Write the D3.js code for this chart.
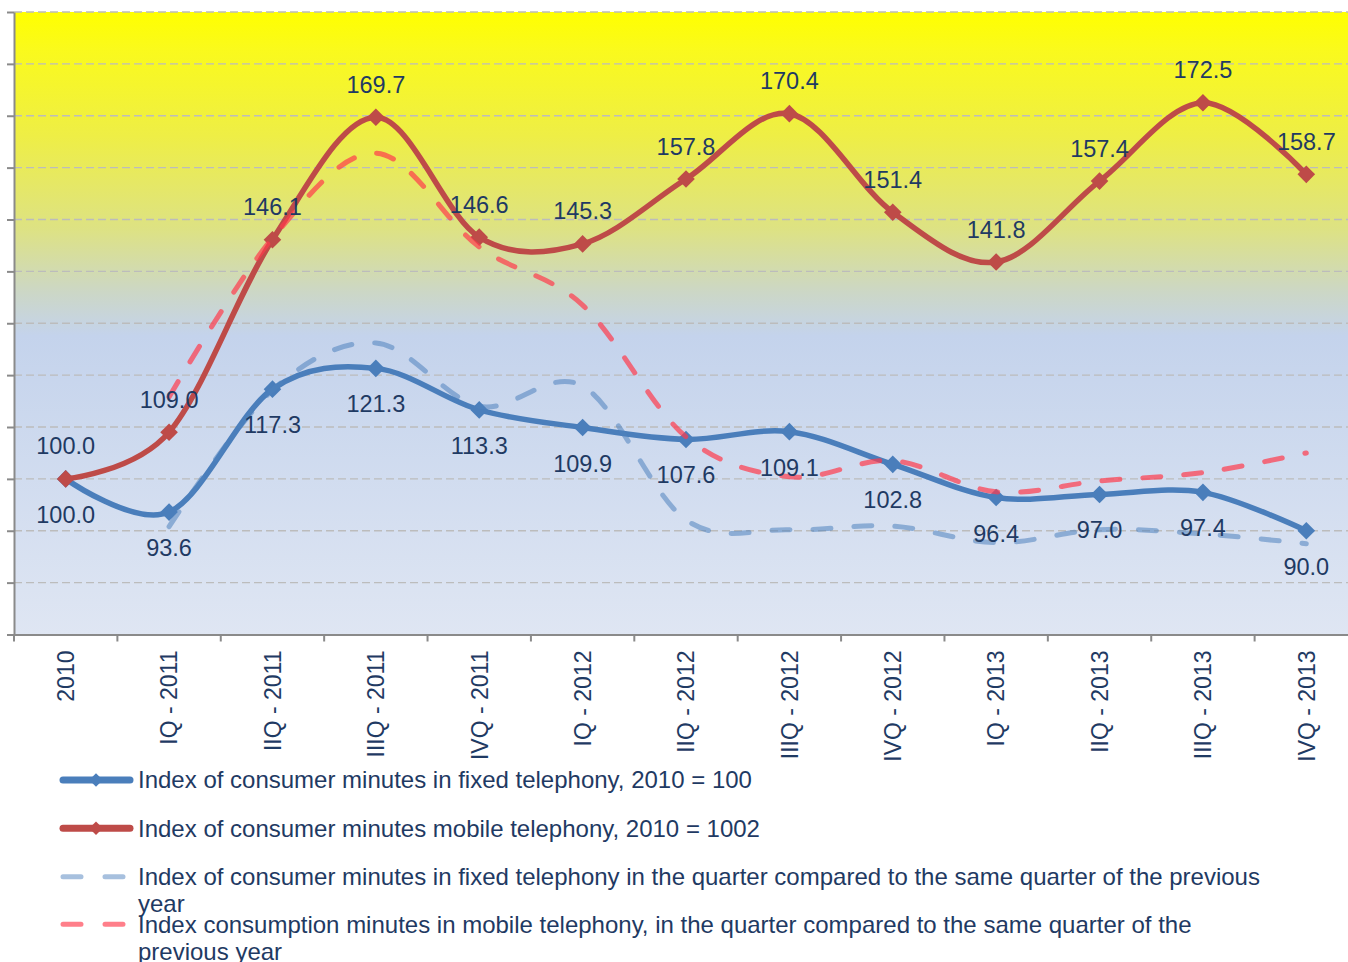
<!DOCTYPE html>
<html>
<head>
<meta charset="utf-8">
<script src="https://cdn.jsdelivr.net/npm/d3@7"></script>
<style>
  html, body { margin: 0; padding: 0; background: #ffffff; }
  svg { display: block; font-family: "Liberation Sans", Arial, sans-serif; }
</style>
</head>
<body>
<svg id="chart" width="1348" height="962"></svg>
<script>
const categories = ["2010", "IQ - 2011", "IIQ - 2011", "IIIQ - 2011", "IVQ - 2011", "IQ - 2012", "IIQ - 2012", "IIIQ - 2012", "IVQ - 2012", "IQ - 2013", "IIQ - 2013", "IIIQ - 2013", "IVQ - 2013"];
const fixedIndex  = [100.0, 93.6, 117.3, 121.3, 113.3, 109.9, 107.6, 109.1, 102.8, 96.4, 97.0, 97.4, 90.0];
const mobileIndex = [100.0, 109.0, 146.1, 169.7, 146.6, 145.3, 157.8, 170.4, 151.4, 141.8, 157.4, 172.5, 158.7];
const fixedYoY    = [null, 90.8, 117.1, 126.2, 114.0, 117.9, 92.1, 90.2, 90.9, 87.7, 90.2, 89.4, 87.5];
const mobileYoY   = [null, 115.8, 146.4, 162.8, 144.7, 133.5, 108.1, 100.4, 103.5, 97.5, 99.6, 101.2, 105.0];
const yTicks = [70, 80, 90, 100, 110, 120, 130, 140, 150, 160, 170, 180, 190];
const legendLabels = [
  ["Index of consumer minutes in fixed telephony, 2010 = 100"],
  ["Index of consumer minutes mobile telephony, 2010 = 1002"],
  ["Index of consumer minutes in fixed telephony in the quarter compared to the same quarter of the previous", "year"],
  ["Index consumption minutes in mobile telephony, in the quarter compared to the same quarter of the", "previous year"]
];

const svg = d3.select("#chart");
const plot = { left: 14, right: 1358, top: 12, bottom: 634.5 };

const x = d3.scaleBand().domain(categories).range([plot.left, plot.right]).padding(0);
const cx = d => x(d) + x.bandwidth() / 2;
const y = d3.scaleLinear().domain([70, 190]).range([plot.bottom, plot.top]);

// background gradient
const defs = svg.append("defs");
const grad = defs.append("linearGradient").attr("id", "bg")
  .attr("x1", 0).attr("y1", 0).attr("x2", 0).attr("y2", 1);
[[0, "#ffff00"], [0.06, "#fafa1c"], [0.2, "#eeee46"], [0.35, "#dde284"], [0.45, "#ccd7c6"],
 [0.52, "#c4d3ec"], [1, "#dfe6f3"]].forEach(s => grad.append("stop").attr("offset", s[0]).attr("stop-color", s[1]));

svg.append("rect")
  .attr("x", plot.left).attr("y", plot.top)
  .attr("width", plot.right - plot.left).attr("height", plot.bottom - plot.top)
  .attr("fill", "url(#bg)");

// gridlines
svg.append("g").selectAll("line")
  .data(yTicks.filter(t => t > 70))
  .join("line")
  .attr("x1", plot.left).attr("x2", plot.right)
  .attr("y1", d => y(d)).attr("y2", d => y(d))
  .attr("stroke", "#bcbcbc").attr("stroke-width", 1.3)
  .attr("stroke-dasharray", "8,4");

// y axis (no labels)
const yAxis = svg.append("g").attr("transform", `translate(${plot.left},0)`)
  .call(d3.axisLeft(y).tickValues(yTicks).tickSize(7).tickSizeOuter(0).tickFormat(""));
yAxis.selectAll("path, line").attr("stroke", "#8a8a8a").attr("stroke-width", 2);

// x axis
const xAxis = svg.append("g").attr("transform", `translate(0,${plot.bottom})`)
  .call(d3.axisBottom(x).tickSize(0).tickSizeOuter(0));
xAxis.select(".domain").attr("stroke", "#8a8a8a").attr("stroke-width", 2);
xAxis.selectAll(".tick text")
  .attr("font-family", "'Liberation Sans', Arial, sans-serif")
  .attr("font-size", "23px")
  .attr("fill", "#1f3a63")
  .attr("text-anchor", "end")
  .attr("transform", "translate(0,16) rotate(-90)")
  .attr("x", 0).attr("y", 0).attr("dy", "0.36em");
// boundary ticks
svg.append("g").selectAll("line")
  .data(categories)
  .join("line")
  .attr("x1", d => x(d)).attr("x2", d => x(d))
  .attr("y1", plot.bottom).attr("y2", plot.bottom + 7)
  .attr("stroke", "#8a8a8a").attr("stroke-width", 2);

const curve = d3.curveCardinal.tension(0);
const mkLine = arr => d3.line()
  .defined((d, i) => arr[i] != null)
  .x((d, i) => cx(categories[i]))
  .y((d, i) => y(arr[i]))
  .curve(curve);

const diamond = d3.symbol().type(d3.symbolSquare).size(155);

const colFixed = "#4a7ebb", colMobile = "#be4b48";
const colFixedYoY = "rgba(79,129,189,0.55)", colMobileYoY = "rgba(255,59,75,0.7)";

function drawSolid(arr, color) {
  svg.append("path").datum(arr)
    .attr("d", mkLine(arr)(arr))
    .attr("fill", "none").attr("stroke", color)
    .attr("stroke-width", 5.5).attr("stroke-linejoin", "round").attr("stroke-linecap", "round");
  svg.append("g").selectAll("path")
    .data(arr)
    .join("path")
    .attr("d", diamond)
    .attr("transform", (d, i) => `translate(${cx(categories[i])},${y(d)}) rotate(45)`)
    .attr("fill", color);
}
function drawDashed(arr, color) {
  svg.append("path").datum(arr)
    .attr("d", mkLine(arr)(arr))
    .attr("fill", "none").attr("stroke", color)
    .attr("stroke-width", 5).attr("stroke-linecap", "round")
    .attr("stroke-dasharray", "18,23");
}

drawSolid(fixedIndex, colFixed);
drawSolid(mobileIndex, colMobile);
drawDashed(fixedYoY, colFixedYoY);
drawDashed(mobileYoY, colMobileYoY);

// data labels
const labelStyle = sel => sel
  .attr("font-size", "23.5px")
  .attr("fill", "#1f3a63")
  .attr("text-anchor", "middle");
svg.append("g").selectAll("text")
  .data(fixedIndex)
  .join("text")
  .attr("x", (d, i) => cx(categories[i]))
  .attr("y", d => y(d) + 44)
  .text(d => d.toFixed(1))
  .call(labelStyle);
svg.append("g").selectAll("text")
  .data(mobileIndex)
  .join("text")
  .attr("x", (d, i) => cx(categories[i]))
  .attr("y", d => y(d) - 24.5)
  .text(d => d.toFixed(1))
  .call(labelStyle);

// legend
const legend = svg.append("g");
const rowY = [780, 828.3, 876.7, 924.3];
const legendColors = [colFixed, colMobile, "rgba(79,129,189,0.5)", "rgba(255,59,75,0.65)"];
legendLabels.forEach((lines, i) => {
  const g = legend.append("g").attr("transform", `translate(0,${rowY[i]})`);
  if (i < 2) {
    g.append("line").attr("x1", 63).attr("x2", 130).attr("y1", 0).attr("y2", 0)
      .attr("stroke", legendColors[i]).attr("stroke-width", 7).attr("stroke-linecap", "round");
    g.append("path").attr("d", d3.symbol().type(d3.symbolSquare).size(90))
      .attr("transform", "translate(96,0) rotate(45)").attr("fill", legendColors[i]);
  } else {
    g.append("line").attr("x1", 63).attr("x2", 123).attr("y1", 0).attr("y2", 0)
      .attr("stroke", legendColors[i]).attr("stroke-width", 5).attr("stroke-linecap", "round")
      .attr("stroke-dasharray", "18,24");
  }
  const t = g.append("text").attr("x", 138).attr("y", 8.4)
    .attr("font-size", "24px").attr("fill", "#1f3a63");
  lines.forEach((ln, j) => {
    t.append("tspan").attr("x", 138).attr("dy", j === 0 ? 0 : 27).text(ln);
  });
});
</script>
</body>
</html>
